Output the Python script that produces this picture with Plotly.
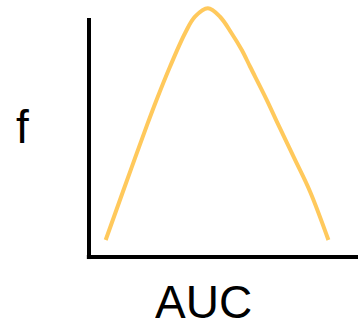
import plotly.graph_objects as go

# Curve (data units: x = AUC axis 0..1, y = f axis 0..1)
auc_values = [0.062, 0.126, 0.171, 0.216, 0.251, 0.301, 0.357, 0.394, 0.442,
              0.487, 0.530, 0.568, 0.599, 0.661, 0.704, 0.763, 0.822, 0.890]
f_values = [0.067, 0.257, 0.389, 0.520, 0.618, 0.749, 0.881, 0.946, 0.979,
            0.946, 0.881, 0.815, 0.749, 0.618, 0.520, 0.389, 0.257, 0.067]

x_label = "AUC"
y_label = "f"

fig = go.Figure()
fig.add_trace(go.Scatter(
    x=auc_values, y=f_values, mode="lines",
    line=dict(color="#FFC95C", width=4, shape="spline", smoothing=1.0),
    hoverinfo="skip", showlegend=False,
))

fig.update_layout(
    width=358, height=326,
    margin=dict(l=89, r=0, t=3, b=69),
    paper_bgcolor="white", plot_bgcolor="white",
    xaxis=dict(range=[0, 1], showgrid=False, zeroline=False, showticklabels=False,
               ticks="", showline=False, fixedrange=True),
    yaxis=dict(range=[0, 1], showgrid=False, zeroline=False, showticklabels=False,
               ticks="", showline=False, fixedrange=True),
    font=dict(family="Liberation Sans, Arial, sans-serif", color="black"),
    shapes=[
        dict(type="line", xref="paper", yref="paper", x0=0, x1=0, y0=-0.008, y1=0.941,
             line=dict(color="black", width=4)),
        dict(type="line", xref="paper", yref="paper", x0=-0.008, x1=1, y0=0, y1=0,
             line=dict(color="black", width=4)),
    ],
    annotations=[
        dict(text=x_label, xref="paper", yref="paper", x=0.4275, y=-0.177,
             xanchor="center", yanchor="middle", showarrow=False, height=40,
             valign="middle", borderpad=0,
             font=dict(size=46, family="Liberation Sans, Arial, sans-serif", color="black")),
        dict(text=y_label, xref="paper", yref="paper", x=-0.249, y=0.512,
             xanchor="center", yanchor="middle", showarrow=False,
             font=dict(size=46, family="Liberation Sans, Arial, sans-serif", color="black")),
    ],
)

fig.write_html(
    "out.html",
    config=dict(displayModeBar=False),
    post_script="document.body.style.margin='0';document.body.style.overflow='hidden';",
)
